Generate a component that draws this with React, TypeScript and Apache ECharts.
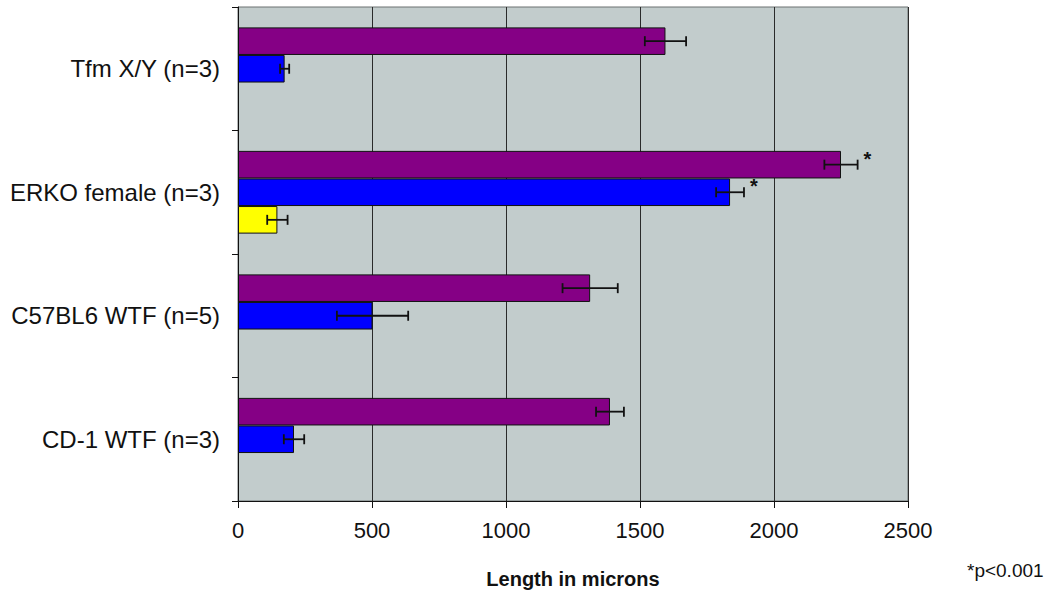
import React, { useEffect, useRef } from "react";
import * as echarts from "echarts";

const categories = ["CD-1 WTF (n=3)", "C57BL6 WTF (n=5)", "ERKO female (n=3)", "Tfm X/Y (n=3)"];
const xTicks = [0, 500, 1000, 1500, 2000, 2500];

const purpleValues = [1388, 1314, 2250, 1595];
const purpleErrors = [52, 103, 62, 77];
const purpleSig = [false, false, true, false];

const blueValues = [209, 502, 1836, 174];
const blueErrors = [38, 133, 52, 17];
const blueSig = [false, false, true, false];

const yellowValues: (number | null)[] = [null, null, 147, null];
const yellowErrors: (number | null)[] = [null, null, 38, null];
const yellowSig = [false, false, false, false];

const footnote = "*p<0.001";
const xName = "Length in microns";

const GAP = 0.33;
const N_SERIES = 3;

export default function App() {
  const ref = useRef<HTMLDivElement>(null);
  useEffect(() => {
    document.body.style.margin = "0";
    const chart = echarts.init(ref.current!, null, { renderer: "svg" });

    const errData: any[] = [];
    const groups = [
      [purpleValues, purpleErrors, purpleSig],
      [blueValues, blueErrors, blueSig],
      [yellowValues, yellowErrors, yellowSig],
    ] as any[];
    groups.forEach(([vals, errs, sigs], s) => {
      vals.forEach((v: number | null, i: number) => {
        if (v == null) return;
        errData.push([v, i, s, errs[i], sigs[i] ? 1 : 0]);
      });
    });

    const font = "'Liberation Sans', Arial, sans-serif";
    const barStyle = (color: string) => ({ color, borderColor: "#111", borderWidth: 1 });

    chart.setOption({
      animation: false,
      backgroundColor: "#ffffff",
      grid: {
        left: 238,
        right: 150,
        top: 7,
        bottom: 104,
        show: true,
        backgroundColor: "#c2cccc",
        borderColor: "#6a7070",
        borderWidth: 1,
      },
      xAxis: {
        type: "value",
        min: 0,
        max: 2500,
        interval: 500,
        name: xName,
        nameLocation: "middle",
        nameGap: 68,
        nameTextStyle: { fontFamily: font, fontSize: 20, fontWeight: "bold", color: "#111" },
        axisLine: { show: true, lineStyle: { color: "#111", width: 1 } },
        axisTick: { show: true, length: 7, lineStyle: { color: "#111" } },
        axisLabel: {
          fontFamily: font,
          fontSize: 22,
          color: "#111",
          margin: 18,
          formatter: (v: number) => (xTicks.includes(v) ? String(v) : ""),
        },
        splitLine: { show: true, lineStyle: { color: "#2a2a2a", width: 1 } },
      },
      yAxis: {
        type: "category",
        data: categories,
        axisLine: { show: true, lineStyle: { color: "#111", width: 1 } },
        axisTick: { show: true, length: 6, lineStyle: { color: "#111" } },
        axisLabel: { fontFamily: font, fontSize: 24, color: "#111", margin: 18 },
        splitLine: { show: false },
      },
      series: [
        {
          type: "bar",
          data: purpleValues,
          itemStyle: barStyle("#850085"),
          barGap: "0%",
          barCategoryGap: GAP * 100 + "%",
        },
        {
          type: "bar",
          data: blueValues,
          itemStyle: barStyle("#0000ff"),
          barGap: "0%",
          barCategoryGap: GAP * 100 + "%",
        },
        {
          type: "bar",
          data: yellowValues,
          itemStyle: barStyle("#ffff00"),
          barGap: "0%",
          barCategoryGap: GAP * 100 + "%",
        },
        {
          type: "custom",
          data: errData,
          z: 10,
          encode: { x: 0, y: 1 },
          renderItem: (params: any, api: any) => {
            const v = api.value(0);
            const cat = api.value(1);
            const s = api.value(2);
            const e = api.value(3);
            const sig = api.value(4);
            const center = api.coord([v, cat]);
            const band = api.size([0, 1])[1];
            const bw = (band * (1 - GAP)) / N_SERIES;
            const y = center[1] - (N_SERIES * bw) / 2 + (s + 0.5) * bw;
            const x1 = api.coord([v - e, cat])[0];
            const x2 = api.coord([v + e, cat])[0];
            const cap = 5;
            const ls = { stroke: "#111", lineWidth: 1.8 };
            const children: any[] = [
              { type: "line", shape: { x1, y1: y, x2, y2: y }, style: ls },
              { type: "line", shape: { x1, y1: y - cap, x2: x1, y2: y + cap }, style: ls },
              { type: "line", shape: { x1: x2, y1: y - cap, x2, y2: y + cap }, style: ls },
            ];
            if (sig) {
              children.push({
                type: "text",
                style: {
                  text: "*",
                  x: x2 + 6,
                  y: y - 6,
                  fontSize: 20,
                  fontWeight: "bold",
                  fontFamily: font,
                  fill: "#111",
                  verticalAlign: "middle",
                },
              });
            }
            return { type: "group", children };
          },
        },
      ],
      graphic: [
        {
          type: "text",
          left: 967,
          top: 561,
          style: { text: footnote, fontSize: 19, fontFamily: font, fill: "#111" },
        },
      ],
    });
    return () => chart.dispose();
  }, []);
  return <div ref={ref} style={{ width: 1058, height: 605 }} />;
}
